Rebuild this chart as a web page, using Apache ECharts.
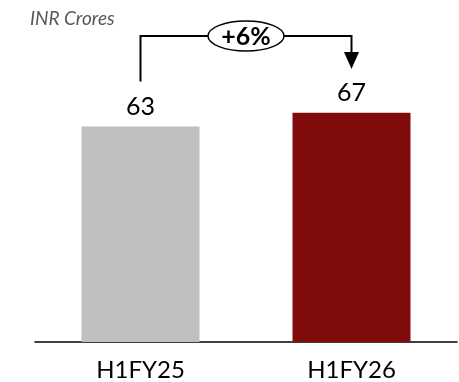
<!DOCTYPE html>
<html><head><meta charset="utf-8">
<script src="https://cdn.jsdelivr.net/npm/echarts@6/dist/echarts.min.js"></script>
<style>html,body{margin:0;padding:0;background:#fff}#c{width:459px;height:382px}</style>
</head><body><div id="c"></div>
<script>
const categories = ['H1FY25', 'H1FY26'];
const values = [63, 67];
const barColors = ['#BFBFBF', '#800C0C'];
const unitLabel = 'INR Crores';
const growthLabel = '+6%';

const chart = echarts.init(document.getElementById('c'), null, {renderer: 'canvas'});
const font = 'Lato, "Open Sans", sans-serif';
chart.setOption({
  animation: false,
  grid: {left: 35, right: 2, top: 0, bottom: 40},
  xAxis: {
    type: 'category', data: categories,
    axisLine: {lineStyle: {color: '#000', width: 1.5}},
    axisTick: {show: false},
    axisLabel: {color: '#000', fontSize: 24, fontFamily: font, margin: 16}
  },
  yAxis: {type: 'value', min: 0, max: 100, show: false, splitLine: {show: false}},
  series: [{
    type: 'bar', barWidth: 118,
    data: values.map((v, i) => ({value: v, itemStyle: {color: barColors[i]}})),
    label: {show: true, position: 'top', distance: 7, color: '#000', fontSize: 25, fontFamily: font}
  }]
});

const p1 = chart.convertToPixel({seriesIndex: 0}, [0, values[0]]);
const p2 = chart.convertToPixel({seriesIndex: 0}, [1, values[1]]);
const yTop = 36;
const midX = (p1[0] + p2[0]) / 2;
const rx = 38, ry = 15;
const lw = 2;
chart.setOption({
  graphic: [
    {type: 'text', left: 30, top: 9, style: {text: unitLabel, fontSize: 19, fontStyle: 'italic', fontFamily: font, fill: '#595959'}},
    {type: 'polyline', shape: {points: [[p1[0], p1[1] - 45], [p1[0], yTop], [midX - rx, yTop]]}, style: {stroke: '#000', lineWidth: lw, fill: null}},
    {type: 'polyline', shape: {points: [[midX + rx, yTop], [p2[0], yTop], [p2[0], yTop + 16]]}, style: {stroke: '#000', lineWidth: lw, fill: null}},
    {type: 'polygon', shape: {points: [[p2[0] - 7.5, yTop + 16], [p2[0] + 7.5, yTop + 16], [p2[0], yTop + 33]]}, style: {fill: '#000'}},
    {type: 'ellipse', shape: {cx: midX, cy: yTop, rx: rx, ry: ry}, style: {stroke: '#000', lineWidth: 1.5, fill: '#fff'}},
    {type: 'text', x: midX, y: yTop + 1, style: {text: growthLabel, fontSize: 25, fontWeight: 'bold', fontFamily: font, fill: '#000', align: 'center', verticalAlign: 'middle'}}
  ]
});
</script></body></html>
